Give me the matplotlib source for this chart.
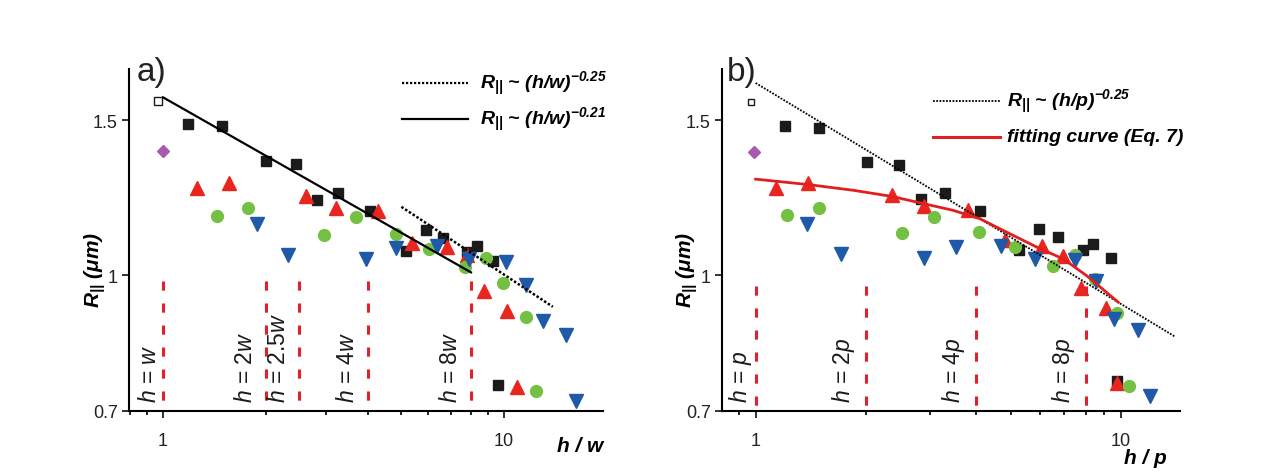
import matplotlib
matplotlib.use("Agg")
import matplotlib.pyplot as plt
from matplotlib.ticker import FixedLocator, NullFormatter, LogLocator, FixedFormatter
from matplotlib.lines import Line2D
import matplotlib.transforms as mtrans

plt.rcParams['font.family'] = ['Liberation Sans', 'DejaVu Sans']
plt.rcParams['mathtext.fontset'] = 'custom'
plt.rcParams['mathtext.rm'] = 'Liberation Sans'
plt.rcParams['mathtext.it'] = 'Liberation Sans:italic'
plt.rcParams['mathtext.bf'] = 'Liberation Sans:bold'
plt.rcParams['mathtext.bfit'] = 'Liberation Sans:bold:italic'

# ---------------- data: panel a (x = h / w) ----------------
a_open_x = [0.97]
a_open_y = [1.58]
a_dia_x = [1.0]
a_dia_y = [1.385]
a_sq_x = [1.18, 1.49, 2.00, 2.45, 2.82, 3.26, 4.05, 5.16, 5.90, 6.64, 7.77, 8.32, 9.27, 9.62]
a_sq_y = [1.485, 1.477, 1.348, 1.337, 1.218, 1.239, 1.183, 1.066, 1.126, 1.102, 1.063, 1.079, 1.038, 0.750]
a_tri_x = [1.26, 1.56, 2.62, 3.22, 4.28, 5.36, 6.79, 7.77, 8.74, 10.19, 10.9]
a_tri_y = [1.257, 1.272, 1.231, 1.193, 1.183, 1.087, 1.076, 1.054, 0.959, 0.911, 0.746]
a_cir_x = [1.44, 1.77, 2.97, 3.67, 4.81, 6.04, 7.68, 8.87, 9.95, 11.6, 12.4]
a_cir_y = [1.169, 1.191, 1.112, 1.164, 1.114, 1.071, 1.020, 1.045, 0.979, 0.896, 0.738]
a_dtri_x = [1.89, 2.33, 3.93, 4.81, 6.35, 7.90, 10.14, 11.6, 13.0, 15.2, 16.3]
a_dtri_y = [1.142, 1.053, 1.042, 1.073, 1.078, 1.042, 1.035, 0.974, 0.886, 0.854, 0.719]
a_solid_x = [1.0, 8.0]
a_solid_y = [1.594, 1.007]
a_dot_x = [5.0, 13.9]
a_dot_y = [1.196, 0.920]
a_vlines = [1, 2, 2.5, 4, 8]
a_vlabels = [r'$h$ = $w$', r'$h$ = 2$w$', r'$h$ = 2.5$w$', r'$h$ = 4$w$', r'$h$ = 8$w$']
a_leg = [r'$\mathbfit{R}_{\mathbfit{||}}$ ~ (h/w)$^{\mathbfit{-0.25}}$',
         r'$\mathbfit{R}_{\mathbfit{||}}$ ~ (h/w)$^{\mathbfit{-0.21}}$']

# ---------------- data: panel b (x = h / p) ----------------
b_open_x = [0.97]
b_open_y = [1.574]
b_dia_x = [0.99]
b_dia_y = [1.38]
b_sq_x = [1.20, 1.49, 2.02, 2.47, 2.84, 3.29, 4.10, 5.26, 5.97, 6.74, 7.86, 8.40, 9.37, 9.73]
b_sq_y = [1.479, 1.472, 1.345, 1.334, 1.220, 1.239, 1.184, 1.068, 1.129, 1.106, 1.068, 1.084, 1.045, 0.757]
b_tri_x = [1.14, 1.39, 2.36, 2.88, 3.82, 4.81, 6.09, 6.95, 7.77, 9.12, 9.77]
b_tri_y = [1.257, 1.272, 1.233, 1.198, 1.185, 1.095, 1.079, 1.050, 0.966, 0.917, 0.754]
b_cir_x = [1.22, 1.49, 2.52, 3.08, 4.09, 5.13, 6.50, 7.48, 8.46, 9.75, 10.54]
b_cir_y = [1.172, 1.193, 1.117, 1.165, 1.119, 1.075, 1.025, 1.054, 0.989, 0.906, 0.747]
b_dtri_x = [1.38, 1.71, 2.88, 3.53, 4.69, 5.82, 7.48, 8.56, 9.57, 11.15, 12.0]
b_dtri_y = [1.144, 1.057, 1.046, 1.076, 1.079, 1.043, 1.041, 0.984, 0.892, 0.866, 0.729]
b_fit_x = [1.0, 1.39, 1.85, 2.36, 2.88, 3.47, 4.11, 4.97, 5.88, 6.95, 8.06, 9.83]
b_fit_y = [1.286, 1.268, 1.249, 1.229, 1.206, 1.185, 1.159, 1.114, 1.076, 1.043, 0.998, 0.931]
b_dot_x = [1.0, 14.1]
b_dot_y = [1.655, 0.850]
b_vlines = [1, 2, 4, 8]
b_vlabels = [r'$h$ = $p$', r'$h$ = 2$p$', r'$h$ = 4$p$', r'$h$ = 8$p$']
b_leg = [r'$\mathbfit{R}_{\mathbfit{||}}$ ~ (h/p)$^{\mathbfit{-0.25}}$',
         'fitting curve (Eq. 7)']

yticks = [0.7, 1, 1.5]
ytick_labels = ['0.7', '1', '1.5']
xticks = [1, 10]
xtick_labels = ['1', '10']

C_BLACK = '#1b1b1b'
C_RED = '#e8261f'
C_GREEN = '#74c043'
C_BLUE = '#1f5aa8'
C_PURPLE = '#a85aae'
C_VL = '#e0202a'

fig = plt.figure(figsize=(12.66, 4.77), dpi=100)
axA = fig.add_axes([0.1019, 0.1363, 0.3744, 0.7170])
axB = fig.add_axes([0.5703, 0.1363, 0.3618, 0.7170])


def style_axis(ax, xlim, xlabel, xlab_pos, ylab_x):
    ax.set_xscale('log')
    ax.set_yscale('log')
    ax.set_xlim(*xlim)
    ax.set_ylim(0.7, 1.717)
    for s in ['top', 'right']:
        ax.spines[s].set_visible(False)
    for s in ['left', 'bottom']:
        ax.spines[s].set_linewidth(1.5)
    ax.xaxis.set_major_locator(FixedLocator(xticks))
    ax.xaxis.set_major_formatter(FixedFormatter(xtick_labels))
    ax.xaxis.set_minor_locator(LogLocator(base=10, subs=range(2, 10)))
    ax.xaxis.set_minor_formatter(NullFormatter())
    ax.yaxis.set_major_locator(FixedLocator(yticks))
    ax.yaxis.set_major_formatter(FixedFormatter(ytick_labels))
    ax.yaxis.set_minor_locator(FixedLocator([]))
    ax.tick_params(axis='both', which='major', direction='out', length=5, width=1.3,
                   labelsize=13, colors='#222222')
    ax.tick_params(axis='x', which='major', pad=10)
    ax.tick_params(axis='y', which='major', pad=3)
    ax.tick_params(axis='x', which='minor', direction='out', length=3, width=1.2)
    ax.text(xlab_pos[0], xlab_pos[1], xlabel, transform=ax.transAxes, ha='right', va='center',
            fontsize=15, fontweight='bold', style='italic')
    ax.text(ylab_x, 0.415, r'$\mathbfit{R}_{\mathbfit{||}}$ (μm)', transform=ax.transAxes,
            rotation=90, ha='center', va='center', fontsize=15, fontweight='bold', style='italic')


def draw_points(ax, ox, oy, ms_open, dx, dy, sx, sy, tx, ty, cx, cy, vx, vy):
    ax.plot(sx, sy, 's', color=C_BLACK, ms=7.5, mec=C_BLACK, zorder=4)
    ax.plot(tx, ty, '^', color=C_RED, ms=9.5, mec=C_RED, zorder=4)
    ax.plot(cx, cy, 'o', color=C_GREEN, ms=8.5, mec=C_GREEN, zorder=4)
    ax.plot(vx, vy, 'v', color=C_BLUE, ms=9.5, mec=C_BLUE, zorder=4)
    ax.plot(dx, dy, 'D', color=C_PURPLE, ms=6.5, mec=C_PURPLE, zorder=4)
    ax.plot(ox, oy, 's', mfc='white', mec=C_BLACK, mew=1.0, ms=ms_open, zorder=4)


def draw_vlines(ax, xs, labels, top, offsets):
    for x, lab, off in zip(xs, labels, offsets):
        ax.plot([x, x], [top, 0.7], color=C_VL, lw=2.2, linestyle=(0, (3.0, 4.2)),
                solid_capstyle='butt', zorder=2)
        tr = ax.transData + mtrans.ScaledTranslation(-off / 100.0, 0, fig.dpi_scale_trans)
        ax.text(x, 0.717, lab, transform=tr, rotation=90, ha='right', va='bottom',
                fontsize=16.5, color='#1a1a1a')


# ---------------- panel a ----------------
style_axis(axA, (0.795, 19.5), 'h / w', (1.0, -0.10), -0.072)
draw_vlines(axA, a_vlines, a_vlabels, 0.985, [2, 9, 9, 9, 9])
draw_points(axA, a_open_x, a_open_y, 6, a_dia_x, a_dia_y, a_sq_x, a_sq_y, a_tri_x, a_tri_y,
            a_cir_x, a_cir_y, a_dtri_x, a_dtri_y)
axA.plot(a_solid_x, a_solid_y, color='black', lw=1.6, zorder=5)
axA.plot(a_dot_x, a_dot_y, color='black', lw=1.8, linestyle=(0, (1, 0.8)), zorder=5)

axA.add_line(Line2D([0.575, 0.715], [0.958, 0.958], transform=axA.transAxes, color='black',
                    lw=1.6, linestyle=(0, (1, 0.8))))
axA.add_line(Line2D([0.575, 0.715], [0.853, 0.853], transform=axA.transAxes, color='black',
                    lw=1.6))
axA.text(0.741, 0.958, a_leg[0], transform=axA.transAxes, ha='left', va='center',
         fontsize=14, fontweight='bold', style='italic')
axA.text(0.741, 0.853, a_leg[1], transform=axA.transAxes, ha='left', va='center',
         fontsize=14, fontweight='bold', style='italic')

# ---------------- panel b ----------------
style_axis(axB, (0.809, 14.5), 'h / p', (0.972, -0.135), -0.076)
draw_vlines(axB, b_vlines, b_vlabels, 0.972, [2, 9, 9, 9])
draw_points(axB, b_open_x, b_open_y, 4.8, b_dia_x, b_dia_y, b_sq_x, b_sq_y, b_tri_x, b_tri_y,
            b_cir_x, b_cir_y, b_dtri_x, b_dtri_y)
axB.plot(b_dot_x, b_dot_y, color='black', lw=1.3, linestyle=(0, (1, 0.8)), zorder=5)
axB.plot(b_fit_x, b_fit_y, color='#e31e1e', lw=2.0, zorder=6)

axB.add_line(Line2D([0.461, 0.607], [0.907, 0.907], transform=axB.transAxes, color='black',
                    lw=1.3, linestyle=(0, (1, 0.8))))
axB.add_line(Line2D([0.461, 0.607], [0.802, 0.802], transform=axB.transAxes, color='#e31e1e',
                    lw=2.2))
axB.text(0.622, 0.907, b_leg[0], transform=axB.transAxes, ha='left', va='center',
         fontsize=14, fontweight='bold', style='italic')
axB.text(0.622, 0.802, b_leg[1], transform=axB.transAxes, ha='left', va='center',
         fontsize=14, fontweight='bold', style='italic')

fig.text(0.108, 0.848, 'a)', fontsize=24, ha='left', va='center', color='#222222')
fig.text(0.574, 0.848, 'b)', fontsize=24, ha='left', va='center', color='#222222')

fig.savefig('out.png', dpi=100)
